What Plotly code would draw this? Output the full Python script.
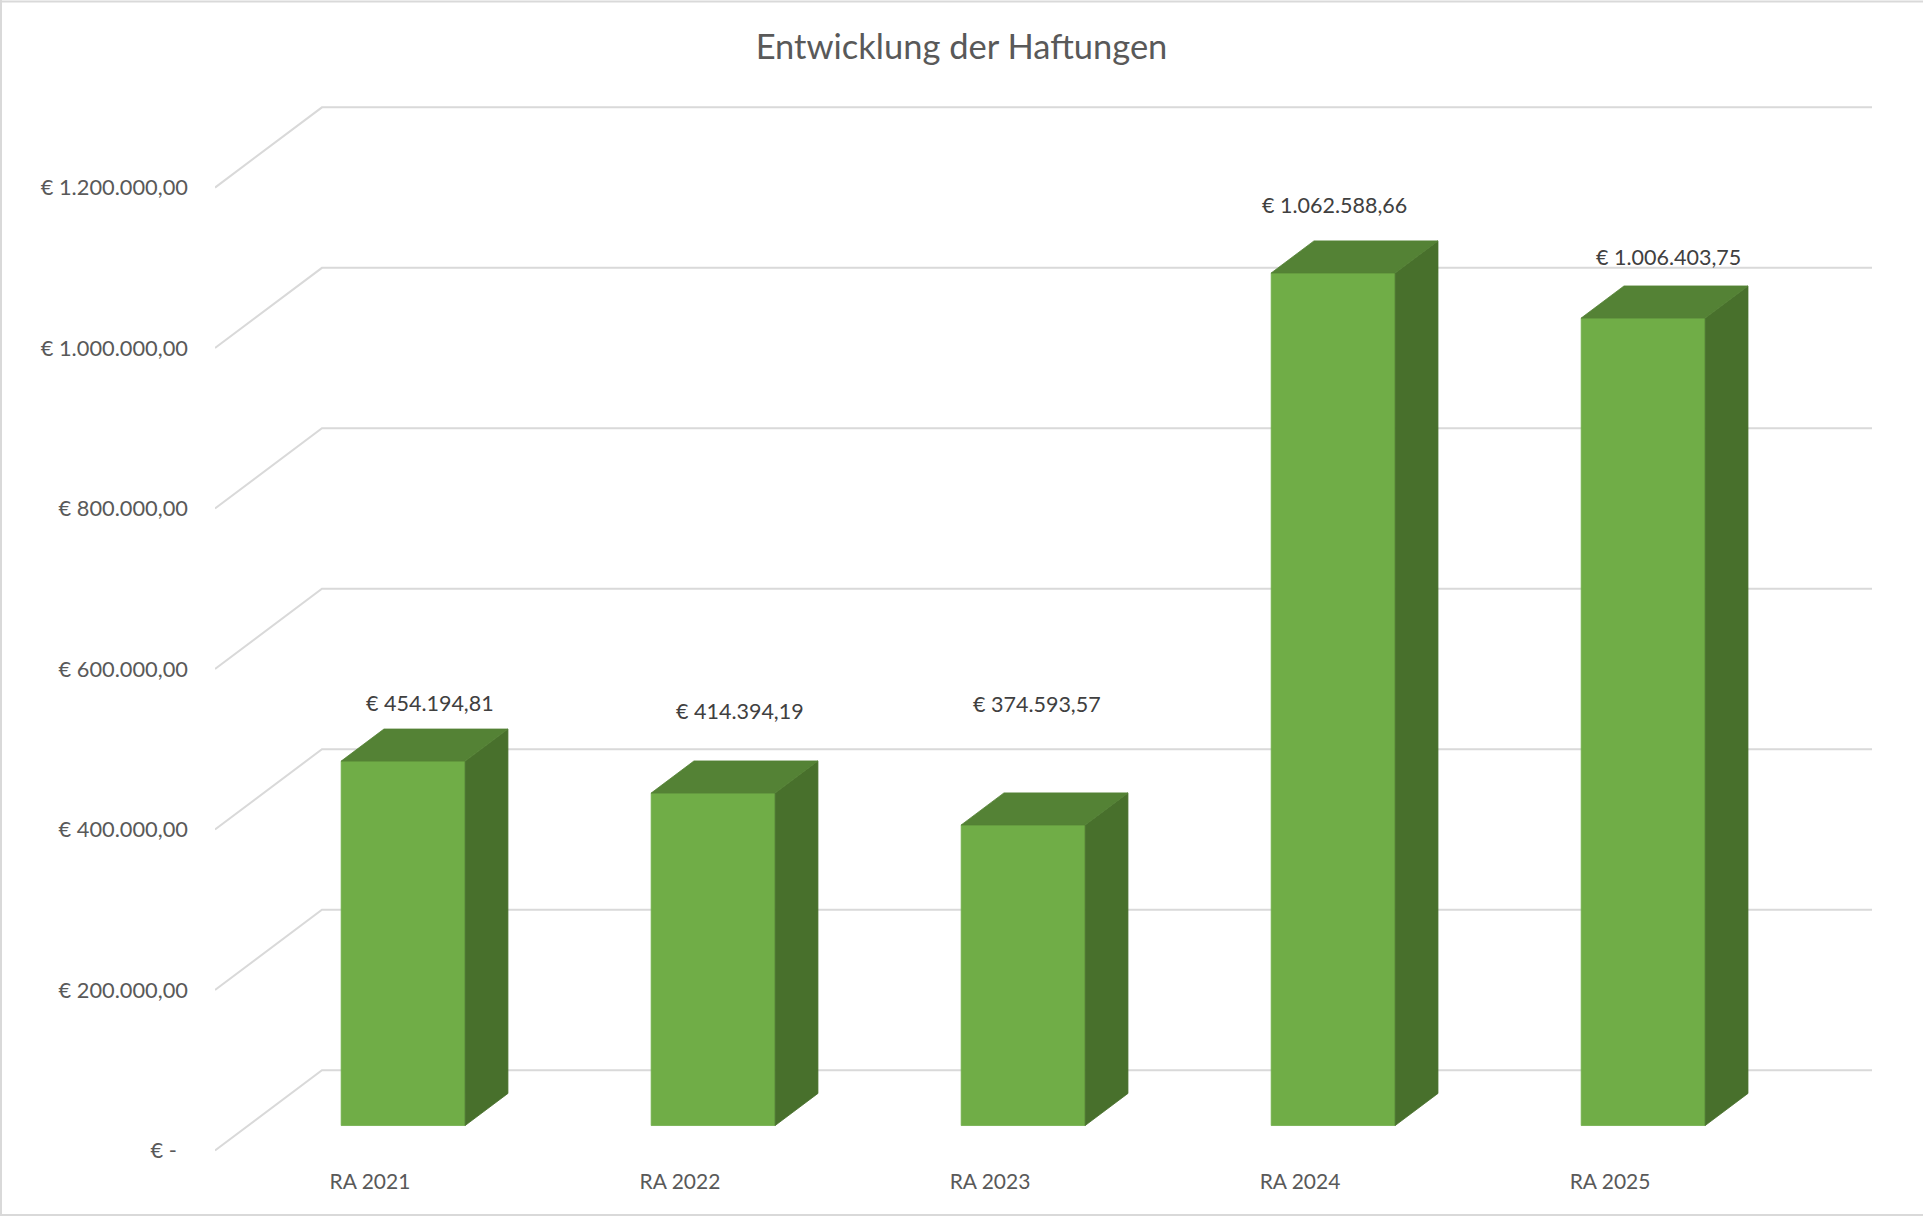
import plotly.graph_objects as go

# ---------------- data ----------------
TITLE = "Entwicklung der Haftungen"
CATEGORIES = ["RA 2021", "RA 2022", "RA 2023", "RA 2024", "RA 2025"]
HAFTUNGEN = [454194.81, 414394.19, 374593.57, 1062588.66, 1006403.75]
Y_TICKS = [0, 200000, 400000, 600000, 800000, 1000000, 1200000]

# ---------------- layout / style constants ----------------
W, H = 1923, 1216
PLOT_L, PLOT_R, PLOT_T, PLOT_B = 215, 1872, 100, 1160
Y0_PX, YMAX_PX = 1150.4, 187.6          # pixel rows of 0 and top tick on the front plane
PX_PER_EUR = (Y0_PX - YMAX_PX) / Y_TICKS[-1]

DEPTH_DX = 0.345        # oblique offset of the back wall (category units)
DEPTH_DY = 100000       # oblique offset of the back wall (value units)
BAR_W = 0.4
BAR_D1, BAR_D2 = 0.31, 0.71   # bar front / back depth fraction

# data label placement (relative to bar), mimicking Excel's 3D placement
LABEL_DX = [0.194, 0.192, 0.152, 0.110, 0.187]
LABEL_LIFT = [103000, 133000, 182000, 116000, 107000]

FONT = "Lato, 'Open Sans', Arial, sans-serif"
C_FRONT, C_SIDE, C_TOP = "#70AD47", "#48702C", "#548235"
C_GRID = "#D9D9D9"
C_TEXT = "#595959"
C_LABEL = "#404040"


def eur(v):
    if v == 0:
        return "€ -\u00a0\u00a0"
    s = f"{v:,.2f}".replace(",", "X").replace(".", ",").replace("X", ".")
    return "€ " + s


n = len(CATEGORIES)
x_range = [-0.5, n - 0.5 + DEPTH_DX]
y_range = [-(PLOT_B - Y0_PX) / PX_PER_EUR, (Y0_PX - PLOT_T) / PX_PER_EUR]

fig = go.Figure()

# back-wall gridlines with the oblique side segment
gx, gy = [], []
for v in Y_TICKS:
    gx += [x_range[0], x_range[0] + DEPTH_DX, x_range[1], None]
    gy += [v, v + DEPTH_DY, v + DEPTH_DY, None]
fig.add_trace(go.Scatter(x=gx, y=gy, mode="lines", line=dict(color=C_GRID, width=2),
                         hoverinfo="skip", showlegend=False))

# 3D bars
for i, v in enumerate(HAFTUNGEN):
    xl1 = i - BAR_W / 2 + BAR_D1 * DEPTH_DX
    xr1 = i + BAR_W / 2 + BAR_D1 * DEPTH_DX
    xl2 = i - BAR_W / 2 + BAR_D2 * DEPTH_DX
    xr2 = i + BAR_W / 2 + BAR_D2 * DEPTH_DX
    yb1, yb2 = BAR_D1 * DEPTH_DY, BAR_D2 * DEPTH_DY
    yt1, yt2 = v + yb1, v + yb2
    faces = [
        ([xl1, xr1, xr1, xl1, xl1], [yb1, yb1, yt1, yt1, yb1], C_FRONT),
        ([xr1, xr2, xr2, xr1, xr1], [yb1, yb2, yt2, yt1, yb1], C_SIDE),
        ([xl1, xr1, xr2, xl2, xl1], [yt1, yt1, yt2, yt2, yt1], C_TOP),
    ]
    for fx, fy, col in faces:
        fig.add_trace(go.Scatter(x=fx, y=fy, mode="lines", fill="toself", fillcolor=col,
                                 line=dict(color=col, width=0.8), hoverinfo="skip",
                                 showlegend=False))
    fig.add_annotation(x=i + LABEL_DX[i], y=v + LABEL_LIFT[i], text=eur(v),
                       showarrow=False, xanchor="center", yanchor="middle",
                       font=dict(family=FONT, size=21.5, color=C_LABEL))

# chart border (light frame)
def px_to_paper_x(px):
    return (px - PLOT_L) / (PLOT_R - PLOT_L)


def px_to_paper_y(py):
    return (PLOT_B - py) / (PLOT_B - PLOT_T)


border = dict(type="line", xref="paper", yref="paper", line=dict(color=C_GRID, width=2), layer="below")
fig.add_shape(**border, x0=px_to_paper_x(0), x1=px_to_paper_x(W), y0=px_to_paper_y(1.5), y1=px_to_paper_y(1.5))
fig.add_shape(**border, x0=px_to_paper_x(0), x1=px_to_paper_x(W), y0=px_to_paper_y(1215), y1=px_to_paper_y(1215))
fig.add_shape(**border, x0=px_to_paper_x(1), x1=px_to_paper_x(1), y0=px_to_paper_y(0), y1=px_to_paper_y(H))

fig.update_layout(
    width=W, height=H,
    margin=dict(l=PLOT_L, r=W - PLOT_R, t=PLOT_T, b=H - PLOT_B, pad=0),
    paper_bgcolor="white", plot_bgcolor="white",
    title=dict(text=TITLE, x=0.5, xref="container", xanchor="center",
               y=1 - 47 / H, yref="container", yanchor="middle",
               font=dict(family=FONT, size=34.5, color=C_TEXT)),
    showlegend=False,
    font=dict(family=FONT, color=C_TEXT),
)

fig.update_xaxes(range=x_range, tickvals=list(range(n)), ticktext=CATEGORIES,
                 showgrid=False, zeroline=False, showline=False, ticks="",
                 ticklabelstandoff=7,
                 tickfont=dict(family=FONT, size=21, color=C_TEXT), fixedrange=True)
fig.update_yaxes(range=y_range, tickvals=Y_TICKS, ticktext=[eur(t) for t in Y_TICKS],
                 showgrid=False, zeroline=False, showline=False, ticks="",
                 ticklabelstandoff=26,
                 tickfont=dict(family=FONT, size=21.8, color=C_TEXT), fixedrange=True)

fig.write_html("out.html", config={"displayModeBar": False},
               post_script="document.body.style.margin='0';document.body.style.overflow='hidden';")
